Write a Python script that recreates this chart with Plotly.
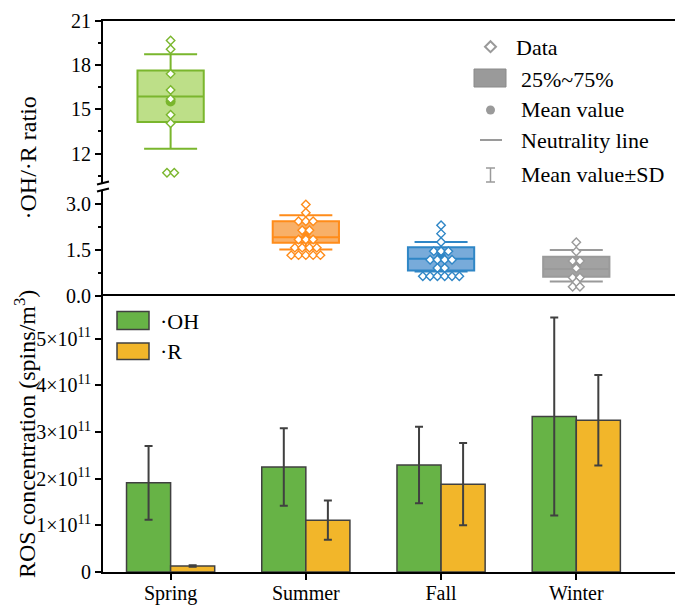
import plotly.graph_objects as go
from collections import Counter

# ---------------- data ----------------
seasons = ["Spring", "Summer", "Fall", "Winter"]

# ·OH/·R ratio box statistics (box = 25%~75%, line = median, whiskers = mean ± SD)
ratio_q1 = [14.14, 1.73, 0.83, 0.63]
ratio_median = [15.88, 1.91, 1.21, 0.88]
ratio_q3 = [17.64, 2.43, 1.59, 1.28]
ratio_mean = [15.54, 2.07, 1.28, 0.985]
ratio_sd = [3.21, 0.56, 0.48, 0.515]

# individual ratio observations
spring_pts = [19.67, 19.08, 17.41, 16.31, 15.70, 14.64, 14.05, 10.69, 10.69]
summer_pts = [2.98, 2.71, 2.43, 2.43, 2.43, 2.14, 2.14, 1.84, 1.84, 1.84,
              1.57, 1.57, 1.57, 1.57, 1.33, 1.33, 1.33, 1.33, 1.33]
fall_pts = [2.30, 2.03, 1.76, 1.46, 1.46, 1.46, 1.18, 1.18, 1.18, 1.18,
            0.91, 0.91, 0.64, 0.64, 0.64, 0.64, 0.64, 0.64]
winter_pts = [1.75, 1.45, 1.14, 1.14, 0.90, 0.60, 0.60, 0.45, 0.30, 0.30]
ratio_points = [spring_pts, summer_pts, fall_pts, winter_pts]

# ROS concentration (spins/m3)
oh_mean = [1.91e11, 2.25e11, 2.29e11, 3.33e11]
oh_sd = [0.79e11, 0.83e11, 0.82e11, 2.12e11]
r_mean = [0.13e11, 1.11e11, 1.88e11, 3.25e11]
r_sd = [0.015e11, 0.42e11, 0.88e11, 0.97e11]

ros_tickvals = [0, 1e11, 2e11, 3e11, 4e11, 5e11]
ros_ticktext = ["0", "1×10<sup>11</sup>", "2×10<sup>11</sup>", "3×10<sup>11</sup>",
                "4×10<sup>11</sup>", "5×10<sup>11</sup>"]

# ---------------- styles ----------------
FONT = "Liberation Serif, Times New Roman, serif"
box_line = ["#7ab62d", "#ff8c1a", "#2f86c6", "#9a9a9a"]
box_fill = ["#bddf88", "#f8b068", "#78abda", "#a2a2a2"]
OH_COLOR = "#67b346"
R_COLOR = "#f2b62a"
EDGE = "#404040"
LEG_GRAY = "#9a9a9a"

# page geometry (body margin removed in the page via post_script)
W, H = 675, 605
AX_L, AX_T, AX_B = 103, 21, 572          # pixels of the plot frame
ML, MR = AX_L, 0
MT, MB = AX_T, H - AX_B
PW, PH = W - ML - MR, H - MT - MB


def pxx(x):
    return (x - AX_L) / PW


def pxy(y):
    return (AX_B - y) / PH


def swarm(vals, center, step=0.054):
    counts = Counter(vals)
    seen = Counter()
    xs = []
    for v in vals:
        n, k = counts[v], seen[v]
        seen[v] += 1
        xs.append(center + (k - (n - 1) / 2) * step)
    return xs


xpos = list(range(len(seasons)))

fig = go.Figure()

# ---------------- ratio boxes (broken axis: upper y2, lower y3) ----------------
for xa, ya in (("x2", "y2"), ("x3", "y3")):
    for i in xpos:
        fig.add_trace(go.Box(
            x=[xpos[i]], q1=[ratio_q1[i]], median=[ratio_median[i]], q3=[ratio_q3[i]],
            lowerfence=[ratio_mean[i] - ratio_sd[i]], upperfence=[ratio_mean[i] + ratio_sd[i]],
            width=0.49, whiskerwidth=0.8, boxpoints=False,
            fillcolor=box_fill[i], line=dict(color=box_line[i], width=2),
            xaxis=xa, yaxis=ya, showlegend=False, hoverinfo="skip"))
        fig.add_trace(go.Scatter(
            x=[xpos[i]], y=[ratio_mean[i]], mode="markers",
            marker=dict(symbol="circle", size=10, color=box_line[i]),
            xaxis=xa, yaxis=ya, showlegend=False, hoverinfo="skip"))
        fig.add_trace(go.Scatter(
            x=swarm(ratio_points[i], xpos[i]), y=ratio_points[i], mode="markers",
            marker=dict(symbol="diamond", size=6.5, color="white",
                        line=dict(color=box_line[i], width=1.4)),
            xaxis=xa, yaxis=ya, showlegend=False, hoverinfo="skip"))

# ---------------- ROS bars ----------------
fig.add_trace(go.Bar(
    x=xpos, y=oh_mean, name="·OH", marker=dict(color=OH_COLOR, line=dict(color=EDGE, width=1.5)),
    error_y=dict(type="data", array=oh_sd, color=EDGE, thickness=2, width=4),
    xaxis="x", yaxis="y", showlegend=False, hoverinfo="skip"))
fig.add_trace(go.Bar(
    x=xpos, y=r_mean, name="·R", marker=dict(color=R_COLOR, line=dict(color=EDGE, width=1.5)),
    error_y=dict(type="data", array=r_sd, color=EDGE, thickness=2, width=4),
    xaxis="x", yaxis="y", showlegend=False, hoverinfo="skip"))

# ---------------- axes ----------------
tickfont = dict(family=FONT, size=20, color="black")
common_y = dict(showline=True, linewidth=2, linecolor="black", ticks="outside", ticklen=6,
                tickwidth=2, tickcolor="black", showgrid=False, zeroline=False,
                tickfont=tickfont, automargin=False, fixedrange=True)

d_bar = (0, pxy(296))
d_low = (pxy(296), pxy(190))
d_up = (pxy(183), 1)

fig.update_layout(
    width=W, height=H, template="none",
    paper_bgcolor="white", plot_bgcolor="white",
    margin=dict(l=ML, r=MR, t=MT, b=MB),
    barmode="group", bargap=0.348, bargroupgap=0,
    font=dict(family=FONT, color="black"),
    xaxis=dict(domain=[0, 1], anchor="y", range=[-0.5, 3.73], tickmode="array",
               tickvals=xpos, ticktext=seasons, ticks="outside", ticklen=6, tickwidth=2,
               tickcolor="black", showline=True, linewidth=2, linecolor="black", mirror=True,
               showgrid=False, zeroline=False, tickfont=tickfont, automargin=False,
               ticklabelstandoff=-4),
    xaxis2=dict(domain=[0, 1], anchor="y2", matches="x", side="top", showline=True,
                linewidth=2, linecolor="black", ticks="", showticklabels=False,
                showgrid=False, zeroline=False),
    xaxis3=dict(domain=[0, 1], anchor="y3", matches="x", showline=False, ticks="",
                showticklabels=False, showgrid=False, zeroline=False),
    yaxis=dict(domain=list(d_bar), anchor="x", range=[0, 5.91e11], tickmode="array",
               tickvals=ros_tickvals, ticktext=ros_ticktext, **common_y),
    yaxis2=dict(domain=list(d_up), anchor="x2", range=[10, 21], tickmode="array",
                tickvals=[12, 15, 18, 21], ticktext=["12", "15", "18", "21"],
                minor=dict(tickmode="array", tickvals=[10.5, 13.5, 16.5, 19.5], ticks="outside",
                           ticklen=3, tickwidth=1.5, tickcolor="black"),
                **common_y),
    yaxis3=dict(domain=list(d_low), anchor="x3", range=[0, 3.45], tickmode="array",
                tickvals=[0, 1.5, 3.0], ticktext=["0.0", "1.5", "3.0"],
                minor=dict(tickmode="array", tickvals=[0.75, 2.25], ticks="outside",
                           ticklen=3, tickwidth=1.5, tickcolor="black"),
                **common_y),
)

shapes = []
annotations = []

# axis-break marks
for yb in (183, 190):
    shapes.append(dict(type="line", xref="paper", yref="paper",
                       x0=pxx(97), y0=pxy(yb + 1.5), x1=pxx(109), y1=pxy(yb - 1.5),
                       line=dict(color="black", width=2)))

# axis titles
annotations.append(dict(text="·OH/·R ratio", xref="paper", yref="paper",
                        x=pxx(27), y=pxy(158.5), xanchor="center", yanchor="middle",
                        textangle=-90, showarrow=False, font=dict(family=FONT, size=24)))
annotations.append(dict(text="ROS concentration (spins/m<sup>3</sup>)", xref="paper", yref="paper",
                        x=pxx(25), y=pxy(434), xanchor="center", yanchor="middle",
                        textangle=-90, showarrow=False, font=dict(family=FONT, size=24)))

# top legend
lf = dict(family=FONT, size=22, color="black")
cx, cy = 490.5, 46.7
dx, dy = 5.5 / PW, 5.5 / PH
x0, y0 = pxx(cx), pxy(cy)
shapes.append(dict(type="path", xref="paper", yref="paper",
                   path=f"M {x0},{y0+dy} L {x0+dx},{y0} L {x0},{y0-dy} L {x0-dx},{y0} Z",
                   fillcolor="white", line=dict(color=LEG_GRAY, width=2)))
annotations.append(dict(text="Data", xref="paper", yref="paper", x=pxx(514), y=pxy(47.5),
                        xanchor="left", yanchor="middle", showarrow=False, font=lf))
shapes.append(dict(type="rect", xref="paper", yref="paper", x0=pxx(474), x1=pxx(506),
                   y0=pxy(87), y1=pxy(69), fillcolor=LEG_GRAY, line=dict(color="#8a8a8a", width=1)))
annotations.append(dict(text="25%~75%", xref="paper", yref="paper", x=pxx(519), y=pxy(79),
                        xanchor="left", yanchor="middle", showarrow=False, font=lf))
shapes.append(dict(type="circle", xref="paper", yref="paper", x0=pxx(486), x1=pxx(495),
                   y0=pxy(114.5), y1=pxy(105.5), fillcolor=LEG_GRAY, line=dict(color=LEG_GRAY, width=0)))
annotations.append(dict(text="Mean value", xref="paper", yref="paper", x=pxx(519), y=pxy(109.5),
                        xanchor="left", yanchor="middle", showarrow=False, font=lf))
shapes.append(dict(type="line", xref="paper", yref="paper", x0=pxx(480), x1=pxx(502),
                   y0=pxy(140), y1=pxy(140), line=dict(color=LEG_GRAY, width=2)))
annotations.append(dict(text="Neutrality line", xref="paper", yref="paper", x=pxx(519), y=pxy(140),
                        xanchor="left", yanchor="middle", showarrow=False, font=lf))
shapes.append(dict(type="line", xref="paper", yref="paper", x0=pxx(490.5), x1=pxx(490.5),
                   y0=pxy(182), y1=pxy(168), line=dict(color=LEG_GRAY, width=1.5)))
for yc in (168, 182):
    shapes.append(dict(type="line", xref="paper", yref="paper", x0=pxx(486), x1=pxx(495),
                       y0=pxy(yc), y1=pxy(yc), line=dict(color=LEG_GRAY, width=1.5)))
annotations.append(dict(text="Mean value±SD", xref="paper", yref="paper", x=pxx(519), y=pxy(174),
                        xanchor="left", yanchor="middle", showarrow=False, font=lf))

# bar legend
bf = dict(family=FONT, size=22, color="black")
shapes.append(dict(type="rect", xref="paper", yref="paper", x0=pxx(117), x1=pxx(149),
                   y0=pxy(329.5), y1=pxy(311.5), fillcolor=OH_COLOR, line=dict(color=EDGE, width=1.5)))
annotations.append(dict(text="·OH", xref="paper", yref="paper", x=pxx(158), y=pxy(321),
                        xanchor="left", yanchor="middle", showarrow=False, font=bf))
shapes.append(dict(type="rect", xref="paper", yref="paper", x0=pxx(117), x1=pxx(149),
                   y0=pxy(359.5), y1=pxy(343), fillcolor=R_COLOR, line=dict(color=EDGE, width=1.5)))
annotations.append(dict(text="·R", xref="paper", yref="paper", x=pxx(158), y=pxy(351),
                        xanchor="left", yanchor="middle", showarrow=False, font=bf))

fig.update_layout(shapes=shapes, annotations=annotations)

fig.write_html("out.html", config={"displayModeBar": False},
               post_script="document.body.style.margin='0';document.body.style.overflow='hidden';")
